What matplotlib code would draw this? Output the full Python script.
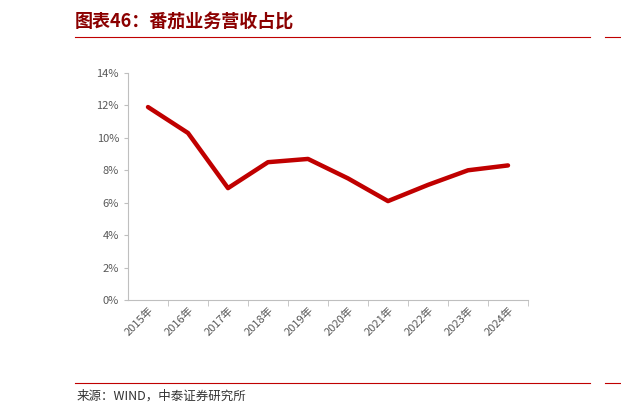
import matplotlib.pyplot as plt
from matplotlib.lines import Line2D

plt.rcParams['font.family'] = ['Noto Sans CJK SC', 'DejaVu Sans']

years = ['2015年', '2016年', '2017年', '2018年', '2019年', '2020年', '2021年', '2022年', '2023年', '2024年']
share = [11.9, 10.3, 6.9, 8.5, 8.7, 7.5, 6.1, 7.1, 8.0, 8.3]

fig = plt.figure(figsize=(6.21, 4.15), dpi=100)
ax = fig.add_axes([128 / 621, 1 - 300 / 415, 400 / 621, 227 / 415])

x = range(len(years))
ax.plot(x, share, color='#C00000', linewidth=3.2, solid_capstyle='round')
ax.set_xlim(-0.5, len(years) - 0.5)
ax.set_ylim(0, 14)
ax.set_yticks(range(0, 15, 2))
ax.set_yticklabels([f'{v}%' for v in range(0, 15, 2)], fontsize=8, color='#595959')
ax.set_xticks([i + 0.5 for i in x], minor=True)
ax.set_xticks(list(x))
ax.set_xticklabels(years, rotation=45, ha='right', rotation_mode='anchor', fontsize=8, color='#595959')
ax.tick_params(axis='x', which='major', length=0)
ax.tick_params(axis='x', which='minor', length=4, color='#BFBFBF')
ax.tick_params(axis='y', length=3, color='#BFBFBF')
for s in ['top', 'right']:
    ax.spines[s].set_visible(False)
for s in ['left', 'bottom']:
    ax.spines[s].set_color('#BFBFBF')

fig.text(75 / 621, 1 - 22 / 415, '图表46：番茄业务营收占比', fontsize=13, fontweight='bold',
         style='italic', color='#8B0000', va='center')
fig.add_artist(Line2D([75 / 621, 590 / 621], [1 - 37 / 415] * 2, color='#C00000', linewidth=0.8))
fig.add_artist(Line2D([605 / 621, 1], [1 - 37 / 415] * 2, color='#C00000', linewidth=0.8))
fig.add_artist(Line2D([75 / 621, 590 / 621], [1 - 383 / 415] * 2, color='#C00000', linewidth=0.8))
fig.add_artist(Line2D([605 / 621, 1], [1 - 383 / 415] * 2, color='#C00000', linewidth=0.8))
fig.text(77 / 621, 1 - 396 / 415, '来源：WIND，中泰证券研究所', fontsize=9, color='#333333', va='center')

fig.savefig('out.png', dpi=100)
